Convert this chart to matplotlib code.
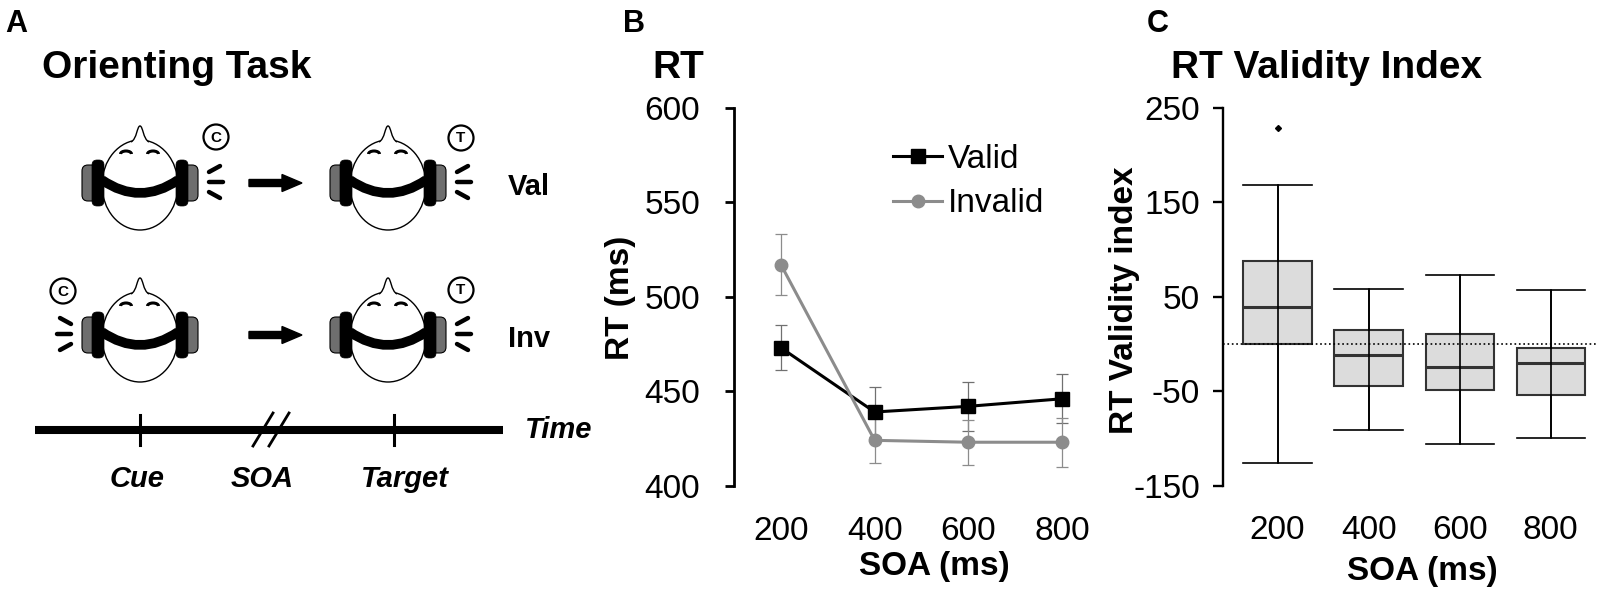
import matplotlib
matplotlib.use("Agg")
import matplotlib.pyplot as plt
from matplotlib import patches
from matplotlib.path import Path

plt.rcParams['font.family'] = ['Liberation Sans', 'DejaVu Sans']

W, H = 1600, 592

# panel B: mean RT (ms) and error bars per SOA
soa = [200, 400, 600, 800]
valid_rt = [473, 439, 442, 446]
valid_se = [12, 13, 13, 13]
invalid_rt = [517, 424, 423, 423]
invalid_se = [16, 12, 12, 13]

# panel C: RT validity index box plot summary per SOA
soa_labels = ['200', '400', '600', '800']
vi_q1 = [0, -44, -49, -54]
vi_med = [39, -12, -24, -20]
vi_q3 = [88, 15, 11, -4]
vi_low = [-126, -91, -106, -99]
vi_high = [168, 58, 73, 57]
vi_fliers = [[229], [], [], []]


def fx(px):
    return px / W


def fy(py):
    return 1 - py / H


def draw_head(ax, cx, cy):
    ax.add_patch(patches.Ellipse((cx, cy + 2), 76, 90, facecolor='white',
                                 edgecolor='black', lw=1.0, zorder=1))
    nose = Path([(cx - 9, cy - 41), (cx - 3, cy - 44), (cx - 3, cy - 57), (cx, cy - 57),
                 (cx + 3, cy - 57), (cx + 3, cy - 44), (cx + 9, cy - 41)],
                [Path.MOVETO, Path.CURVE4, Path.CURVE4, Path.CURVE4,
                 Path.CURVE4, Path.CURVE4, Path.CURVE4])
    ax.add_patch(patches.PathPatch(nose, facecolor='white', edgecolor='none', zorder=2))
    ax.add_patch(patches.PathPatch(nose, fill=False, edgecolor='black', lw=1.0, zorder=2))
    for ex in (-14, 13):
        ax.add_patch(patches.Arc((cx + ex, cy - 29), 11, 6, theta1=180, theta2=360,
                                 lw=2.2, color='black', zorder=2))
    for side in (-1, 1):
        gx = cx - 58 if side < 0 else cx + 43
        ax.add_patch(patches.FancyBboxPatch((gx, cy - 18), 15, 36,
                                            boxstyle='round,pad=0,rounding_size=6',
                                            facecolor='#6e6e6e', edgecolor='black',
                                            lw=0.8, zorder=3))
        bx = cx - 48 if side < 0 else cx + 36
        ax.add_patch(patches.FancyBboxPatch((bx, cy - 23), 12, 46,
                                            boxstyle='round,pad=0,rounding_size=5',
                                            facecolor='black', edgecolor='black',
                                            lw=0.5, zorder=4))
    band = Path([(cx - 38, cy - 3), (cx, cy + 23), (cx + 38, cy - 3)],
                [Path.MOVETO, Path.CURVE3, Path.CURVE3])
    ax.add_patch(patches.PathPatch(band, fill=False, edgecolor='black', lw=7,
                                   capstyle='butt', zorder=5))


def draw_sound(ax, cx, cy, side):
    segs = [((69, -11), (80, -17)), ((69, -1), (83, -1)), ((69, 9), (80, 15))]
    for (x0, y0), (x1, y1) in segs:
        ax.plot([cx + side * x0, cx + side * x1], [cy + y0, cy + y1], color='black',
                lw=3.2, solid_capstyle='round', zorder=3)


def draw_badge(ax, x, y, letter):
    ax.add_patch(patches.Circle((x, y), 12.5, facecolor='white', edgecolor='black',
                                lw=1.6, zorder=3))
    ax.text(x, y + 0.5, letter, ha='center', va='center', fontsize=11,
            fontweight='bold', zorder=4)


fig = plt.figure(figsize=(16, 5.92), dpi=100)

# ---------------- panel A: schematic ----------------
axa = fig.add_axes([0, 0, 560 / W, 1])
axa.set_xlim(0, 560)
axa.set_ylim(592, 0)
axa.axis('off')

axa.text(5, 32, 'A', fontsize=22, fontweight='bold', va='baseline')
axa.text(42, 78, 'Orienting Task', fontsize=28, fontweight='bold', va='baseline')

rows = [(183, 1, (216, 137), 'Val'), (335, -1, (63, 291), 'Inv')]
for cy, cue_side, cue_pos, lab in rows:
    draw_head(axa, 140, cy)
    draw_head(axa, 388, cy)
    draw_sound(axa, 140, cy, cue_side)
    draw_sound(axa, 388, cy, 1)
    draw_badge(axa, cue_pos[0], cue_pos[1], 'C')
    draw_badge(axa, 461, cy - 45, 'T')
    axa.add_patch(patches.FancyArrow(249, cy, 53, 0, width=7, head_width=17,
                                     head_length=20, length_includes_head=True,
                                     color='black', zorder=3))
    axa.text(508, cy + 12, lab, fontsize=21, fontweight='bold', va='baseline')

# time line
axa.plot([35, 503], [430, 430], color='black', lw=5.8, solid_capstyle='butt')
for tx in (140, 394):
    axa.plot([tx, tx], [415, 445], color='black', lw=2.2)
for sx in (253, 269):
    axa.plot([sx, sx + 20], [446, 413], color='black', lw=2)
axa.text(525, 438, 'Time', fontsize=21, fontweight='bold', style='italic', va='baseline')
for tx, lab in [(137, 'Cue'), (262, 'SOA'), (405, 'Target')]:
    axa.text(tx, 487, lab, fontsize=21, fontweight='bold', style='italic',
             ha='center', va='baseline')

# ---------------- panel B: RT ----------------
axb = fig.add_axes([fx(734), fy(485.7), 361 / W, (485.7 - 107.7) / H])
axb.errorbar(soa, valid_rt, yerr=valid_se, fmt='none', ecolor='#707070',
             elinewidth=0.9, capsize=4.4, capthick=0.9, zorder=2)
axb.errorbar(soa, invalid_rt, yerr=invalid_se, fmt='none', ecolor='#8c8c8c',
             elinewidth=0.9, capsize=4.4, capthick=0.9, zorder=2)
axb.plot(soa, valid_rt, '-s', color='black', lw=2.2, ms=9.5, label='Valid', zorder=3)
axb.plot(soa, invalid_rt, '-o', color='#8c8c8c', lw=2.2, ms=9, label='Invalid', zorder=4)
axb.set_xlim(100, 870)
axb.set_ylim(400, 600)
axb.set_yticks([400, 450, 500, 550, 600])
axb.set_xticks(soa)
for s in ('top', 'right', 'bottom'):
    axb.spines[s].set_visible(False)
axb.spines['left'].set_linewidth(2)
axb.tick_params(axis='y', length=6.5, width=2, pad=18, labelsize=24)
axb.tick_params(axis='x', length=0, pad=22, labelsize=24)
axb.set_ylabel('RT (ms)', fontsize=24, fontweight='bold')
axb.yaxis.label.set_verticalalignment('center')
axb.yaxis.set_label_coords(-0.315, 0.496)
axb.set_xlabel('SOA (ms)', fontsize=24, fontweight='bold')
axb.xaxis.label.set_verticalalignment('center')
axb.xaxis.set_label_coords(0.554, -0.214)
axb.legend(loc='center left', bbox_to_anchor=(fx(893), fy(181.5)),
           bbox_transform=fig.transFigure, frameon=False, fontsize=24,
           borderpad=0, borderaxespad=0, handlelength=1.47, handletextpad=0.18,
           labelspacing=0.42)

fig.text(fx(623), fy(32), 'B', fontsize=22, fontweight='bold', va='baseline')
fig.text(fx(652), fy(78), 'RT', fontsize=28, fontweight='bold', va='baseline')

# ---------------- panel C: validity index ----------------
axc = fig.add_axes([fx(1223), fy(486), 375 / W, (486 - 107.7) / H])
positions = [1, 2, 3, 4]
stats = []
for i in range(len(positions)):
    stats.append(dict(med=vi_med[i], q1=vi_q1[i], q3=vi_q3[i],
                      whislo=vi_low[i], whishi=vi_high[i], fliers=vi_fliers[i]))
axc.bxp(stats, positions=positions, widths=0.75, capwidths=0.75, patch_artist=True,
        boxprops=dict(facecolor='#dcdcdc', edgecolor='#333333', linewidth=1.5),
        medianprops=dict(color='#333333', linewidth=2.2),
        whiskerprops=dict(color='black', linewidth=1.2),
        capprops=dict(color='black', linewidth=1.2),
        flierprops=dict(marker='D', markersize=3, markerfacecolor='black',
                        markeredgecolor='black'))
axc.vlines(positions, vi_low, vi_high, color='black', lw=1.2, zorder=4)
axc.axhline(0, color='black', ls=':', lw=1.2, zorder=5)
axc.set_xlim(0.4, 4.52)
axc.set_ylim(-150, 250)
yt = [-150, -50, 50, 150, 250]
axc.set_yticks(yt, [str(t) for t in yt])
axc.set_xticks(positions, soa_labels)
for s in ('top', 'right', 'bottom'):
    axc.spines[s].set_visible(False)
axc.spines['left'].set_linewidth(1.7)
axc.tick_params(axis='y', length=7.4, width=1.7, pad=9, labelsize=24)
axc.tick_params(axis='x', length=0, pad=21, labelsize=24)
axc.set_ylabel('RT Validity index', fontsize=24, fontweight='bold')
axc.yaxis.label.set_verticalalignment('center')
axc.yaxis.set_label_coords(-0.264, 0.492)
axc.set_xlabel('SOA (ms)', fontsize=24, fontweight='bold')
axc.xaxis.label.set_verticalalignment('center')
axc.xaxis.set_label_coords(0.532, -0.2265)

fig.text(fx(1147), fy(32), 'C', fontsize=22, fontweight='bold', va='baseline')
fig.text(fx(1171), fy(78), 'RT Validity Index', fontsize=28, fontweight='bold', va='baseline')

fig.savefig('out.png', dpi=100)
